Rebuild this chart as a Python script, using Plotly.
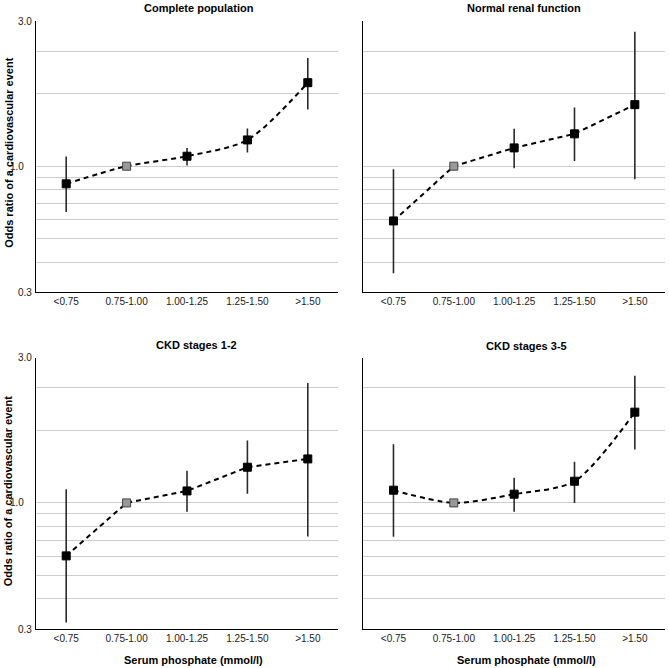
import math
import plotly.graph_objects as go

# ---------------- data ----------------
categories = ["<0.75", "0.75-1.00", "1.00-1.25", "1.25-1.50", ">1.50"]

panel_titles = ["Complete population", "Normal renal function",
                "CKD stages 1-2", "CKD stages 3-5"]

or_complete = [0.845, 1.0, 1.10, 1.285, 2.22]
lo_complete = [0.646, 1.0, 1.006, 1.139, 1.72]
hi_complete = [1.096, 1.0, 1.19, 1.432, 2.81]

or_normal = [0.593, 1.0, 1.191, 1.362, 1.80]
lo_normal = [0.360, 1.0, 0.981, 1.052, 0.883]
hi_normal = [0.972, 1.0, 1.43, 1.751, 3.61]

or_ckd12 = [0.603, 1.0, 1.121, 1.406, 1.522]
lo_ckd12 = [0.319, 1.0, 0.92, 1.09, 0.725]
hi_ckd12 = [1.14, 1.0, 1.36, 1.814, 3.14]

or_ckd35 = [1.129, 1.0, 1.087, 1.23, 2.378]
lo_ckd35 = [0.723, 1.0, 0.92, 1.0, 1.664]
hi_ckd35 = [1.752, 1.0, 1.27, 1.48, 3.365]

line_shapes = ["spline", "linear", "linear", "spline"]

grid_vals = [0.3, 0.4, 0.5, 0.6, 0.7, 0.8, 0.9, 1.0, 2.0, 3.0, 4.0]
grid_text = ["0.3", "", "", "", "", "", "", "", "", "", "3.0"]

y_title = "Odds ratio of a cardiovascular event"
x_title = "Serum phosphate (mmol/l)"

# ---------------- layout helpers ----------------
W, H = 669, 668
ML, MR, MT, MB = 36, 4, 21, 39
PW, PH = W - ML - MR, H - MT - MB


def px(xp):
    return (xp - ML) / PW


def py(yp):
    return (H - MB - yp) / PH


FONT = "Liberation Sans, Arial, sans-serif"

panels = [
    (or_complete, lo_complete, hi_complete),
    (or_normal, lo_normal, hi_normal),
    (or_ckd12, lo_ckd12, hi_ckd12),
    (or_ckd35, lo_ckd35, hi_ckd35),
]

x_domains = [[0, px(338)], [px(363.3), 1], [0, px(338)], [px(363.3), 1]]
y_domains = [[py(292.3), 1], [py(292.3), 1], [0, py(357.7)], [0, py(357.7)]]

fig = go.Figure()

for i, (vals, lo, hi) in enumerate(panels):
    n = "" if i == 0 else str(i + 1)
    xa, ya = "x" + n, "y" + n
    fig.add_trace(go.Scatter(
        x=categories, y=vals, xaxis=xa, yaxis=ya, mode="lines",
        line=dict(color="black", width=2, dash="5px,4px",
                  shape=line_shapes[i], smoothing=0.8),
        showlegend=False, hoverinfo="skip"))
    fig.add_trace(go.Scatter(
        x=categories, y=vals, xaxis=xa, yaxis=ya, mode="markers",
        marker=dict(symbol="square", size=8,
                    color=["black", "#999999", "black", "black", "black"],
                    line=dict(color=["black", "#444444", "black", "black", "black"], width=1)),
        error_y=dict(type="data", symmetric=False,
                     array=[h - v for h, v in zip(hi, vals)],
                     arrayminus=[v - l for v, l in zip(vals, lo)],
                     width=0, thickness=1.6, color="#2a2a2a"),
        showlegend=False))

    left = i in (0, 2)
    fig.update_layout(**{
        ("xaxis" + n): dict(domain=x_domains[i], anchor=ya, type="category",
                            range=[-0.5, 4.5], showline=True, linecolor="black",
                            linewidth=1.2, ticks="", showgrid=False, zeroline=False,
                            automargin=False,
                            tickfont=dict(family=FONT, size=10, color="#222")),
        ("yaxis" + n): dict(domain=y_domains[i], anchor=xa, type="log",
                            range=[math.log10(0.3), math.log10(4.0)],
                            tickmode="array", tickvals=grid_vals, ticktext=grid_text,
                            showticklabels=left, showline=True, linecolor="black",
                            linewidth=1.2, ticks="", showgrid=True,
                            gridcolor="#cccccc", gridwidth=1.2,
                            ticklabelstandoff=1, automargin=False,
                            tickfont=dict(family=FONT, size=10, color="#222")),
    })
    # reference line at OR = 1
    fig.add_shape(type="line", xref=xa + " domain", yref=ya,
                  x0=(-10 / 302 if left else 0), x1=1, y0=0, y1=0,
                  line=dict(color="black", width=1.3), layer="above")
    if left:
        fig.add_annotation(text="1.0", xref=xa + " domain", yref=ya,
                           x=-10.5 / 302, y=0, xanchor="right", yanchor="middle",
                           showarrow=False,
                           font=dict(family=FONT, size=10, color="#222"))

# panel titles
title_pos = [(198.6, 7.5), (523.7, 7.5), (196.5, 344.5), (526.7, 345.5)]
for t, (xp, yp) in zip(panel_titles, title_pos):
    fig.add_annotation(text="<b>%s</b>" % t, xref="paper", yref="paper",
                       x=px(xp), y=py(yp), xanchor="center", yanchor="middle",
                       showarrow=False, font=dict(family=FONT, size=11, color="black"))

# axis titles
for yp in (152.5, 491):
    fig.add_annotation(text="<b>%s</b>" % y_title, xref="paper", yref="paper",
                       x=px(8.3), y=py(yp), textangle=-90, xanchor="center",
                       yanchor="middle", showarrow=False,
                       font=dict(family=FONT, size=11, color="black"))
for xp in (193.7, 526.3):
    fig.add_annotation(text="<b>%s</b>" % x_title, xref="paper", yref="paper",
                       x=px(xp), y=py(659.5), xanchor="center", yanchor="middle",
                       showarrow=False, font=dict(family=FONT, size=11, color="black"))

fig.update_layout(width=W, height=H, margin=dict(l=ML, r=MR, t=MT, b=MB, autoexpand=False),
                  paper_bgcolor="white", plot_bgcolor="white", showlegend=False)

fig.write_html("out.html",
               config={"displayModeBar": False},
               post_script="document.body.style.margin='0';"
                           "document.body.style.overflow='hidden';")
